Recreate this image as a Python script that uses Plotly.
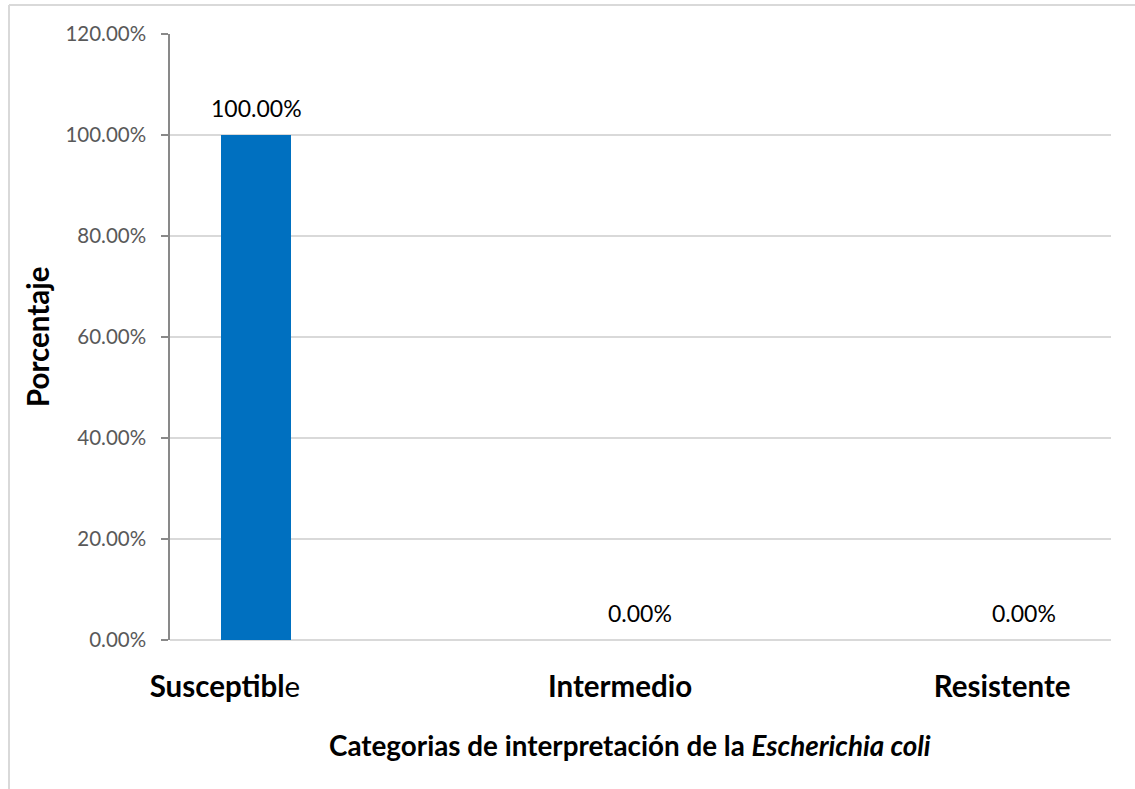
import plotly.graph_objects as go

# Porcentaje por categoría de interpretación
categorias = ["Susceptible", "Intermedio", "Resistente"]
etiquetas_eje = ["<b>Susceptibl</b>e", "<b>Intermedio</b>", "<b>Resistente</b>"]
porcentajes = [100.0, 0.0, 0.0]
y_ticks = [0, 20, 40, 60, 80, 100, 120]

FONT = "Lato"
W, H = 1135, 789
L, R, T, B = 170, 24, 34, 149

pos = list(range(len(categorias)))
# category labels sit slightly left of their bars
desplazamiento = [-0.081, -0.052, -0.057]
pos_etiquetas = [p + d for p, d in zip(pos, desplazamiento)]

fig = go.Figure()
fig.add_trace(go.Bar(
    x=pos,
    y=porcentajes,
    width=0.182,
    marker=dict(color="#0070C0", line=dict(width=0)),
    hoverinfo="skip",
))

# value labels above each bar
for p, v in zip(pos, porcentajes):
    fig.add_annotation(
        x=p, y=v, xref="x", yref="y",
        text=f"{v:.2f}%", showarrow=False,
        yshift=27, font=dict(family=FONT, size=23, color="#000000"),
    )

# chart frame (top and left edges)
pw, ph = W - L - R, H - T - B
fx0 = (9 - L) / pw
fy_top = (H - B - 5) / ph
fy_bot = (H - B - H) / ph
fx1 = (W - L) / pw
fig.add_shape(type="line", xref="paper", yref="paper", x0=fx0, x1=fx1, y0=fy_top, y1=fy_top,
              line=dict(color="#D9D9D9", width=2))
fig.add_shape(type="line", xref="paper", yref="paper", x0=fx0, x1=fx0, y0=fy_top, y1=fy_bot,
              line=dict(color="#D9D9D9", width=2))

# axis titles
fig.add_annotation(
    xref="paper", yref="paper", x=(630 - L) / pw, y=(H - B - 745) / ph,
    text="<b>Categorias de interpretación de la <i>Escherichia coli</i></b>",
    showarrow=False, font=dict(family=FONT, size=27.8, color="#000000"),
    xanchor="center", yanchor="middle",
)
fig.add_annotation(
    xref="paper", yref="paper", x=(37 - L) / pw, y=0.5,
    text="<b>Porcentaje</b>", textangle=-90,
    showarrow=False, font=dict(family=FONT, size=29.5, color="#000000"),
    xanchor="center", yanchor="middle",
)

x0 = -86 / 384
x1 = (1111 - 256) / 384
fig.update_layout(
    width=W, height=H,
    margin=dict(l=L, r=R, t=T, b=B, autoexpand=False),
    paper_bgcolor="white", plot_bgcolor="white",
    showlegend=False,
    bargap=0,
    xaxis=dict(
        range=[x0, x1],
        tickvals=pos_etiquetas, ticktext=etiquetas_eje,
        tickfont=dict(family=FONT, size=29.5, color="#000000"),
        ticks="", showgrid=False, zeroline=False, showline=False,
        ticklabelstandoff=26,
    ),
    yaxis=dict(
        range=[0, 120],
        tickvals=y_ticks, ticktext=[f"{t:.2f}%" for t in y_ticks],
        tickfont=dict(family=FONT, size=20.5, color="#595959"),
        showgrid=True, gridcolor="#D9D9D9", gridwidth=1.5,
        zeroline=True, zerolinecolor="#D9D9D9", zerolinewidth=1.5,
        showline=True, linecolor="#898989", linewidth=1.5,
        ticks="outside", ticklen=7, tickcolor="#898989", tickwidth=1.5,
        ticklabelstandoff=11,
    ),
)

fig.write_html("out.html")
